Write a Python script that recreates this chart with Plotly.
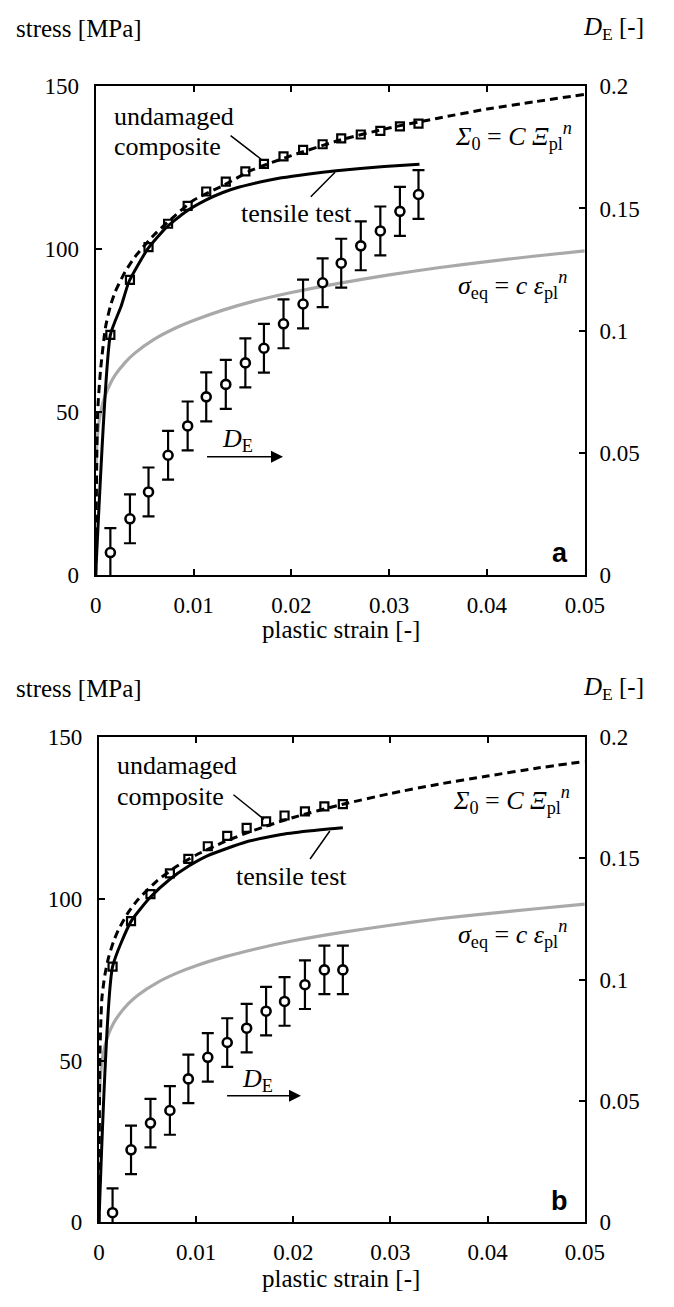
import plotly.graph_objects as go

W, H = 674, 1307

# ---------------- data : panel a ----------------
a_sq_x = [0.0015, 0.0035, 0.0054, 0.0074, 0.0094, 0.0113, 0.0133, 0.0153, 0.0172,
          0.0192, 0.0212, 0.0232, 0.0251, 0.0271, 0.0291, 0.0311, 0.0330]
a_sq_y = [73.7, 90.6, 100.6, 107.8, 113.3, 117.7, 120.7, 123.9, 126.2,
          128.5, 130.5, 132.2, 134.0, 135.2, 136.3, 137.7, 138.5]
a_de_x = a_sq_x
a_de_y = [0.0092, 0.0230, 0.0340, 0.0490, 0.0610, 0.0729, 0.0780, 0.0868, 0.0928,
          0.1028, 0.1109, 0.1196, 0.1276, 0.1347, 0.1408, 0.1488, 0.1557]
a_de_err = [0.010] * 17
a_tens_x = [0, 0.0015, 0.0026, 0.0034, 0.0053, 0.0072, 0.0092, 0.0112, 0.013, 0.0146, 0.0168,
            0.019, 0.0218, 0.0246, 0.0295, 0.0331]
a_tens_y = [0, 73.7, 82.5, 90.0, 100.0, 106.6, 111.5, 115.0, 117.4, 119.0, 120.6,
            121.9, 123.1, 124.1, 125.4, 126.1]
a_dash_x = [0, 0.0002, 0.0005, 0.001, 0.0015, 0.002, 0.003, 0.004, 0.006, 0.008, 0.01,
            0.013, 0.016, 0.02, 0.025, 0.03, 0.035, 0.04, 0.045, 0.05]
a_dash_y = [0, 50, 63, 76, 82.5, 87.0, 93.0, 97.6, 104.5, 110.0, 115.0,
            119.5, 124.3, 128.7, 133.5, 137.2, 140.2, 143.0, 145.3, 147.5]
a_gray_x = [0.00003, 0.0001, 0.0003, 0.0006, 0.001, 0.0015, 0.002, 0.003, 0.004, 0.006, 0.008,
            0.01, 0.013, 0.016, 0.02, 0.025, 0.03, 0.035, 0.04, 0.045, 0.05]
a_gray_y = [33.0, 39.2, 46.2, 51.2, 55.3, 58.8, 61.4, 65.2, 68.1, 72.4, 75.6,
            78.1, 81.3, 83.9, 86.7, 89.6, 92.1, 94.3, 96.2, 97.9, 99.5]

# ---------------- data : panel b ----------------
b_sq_x = [0.0014, 0.0033, 0.0053, 0.0073, 0.0092, 0.0112, 0.0132, 0.0152, 0.0172,
          0.0191, 0.0212, 0.0232, 0.0251]
b_sq_y = [79.0, 93.1, 101.4, 107.8, 112.3, 116.2, 119.4, 121.9, 123.9, 125.7, 127.0, 128.5, 129.2]
b_de_x = b_sq_x
b_de_y = [0.0040, 0.0299, 0.0409, 0.0461, 0.0591, 0.0680, 0.0741, 0.0800, 0.0870,
          0.0910, 0.0979, 0.1040, 0.1040]
b_de_err = [0.010] * 13
b_tens_x = [0, 0.0014, 0.0033, 0.0053, 0.0073, 0.0092, 0.0112, 0.0152, 0.0191, 0.0228, 0.0251]
b_tens_y = [0, 79.0, 93.0, 100.5, 106.0, 110.0, 113.3, 117.6, 120.0, 121.3, 121.9]
b_dash_x = [0, 0.0001, 0.0003, 0.0006, 0.001, 0.0015, 0.002, 0.003, 0.004, 0.006, 0.008, 0.01,
            0.013, 0.016, 0.02, 0.025, 0.03, 0.035, 0.04, 0.045, 0.05]
b_dash_y = [0, 52, 69.2, 76.3, 82.0, 86.8, 90.4, 95.7, 99.7, 105.6, 110.0, 113.5,
            117.7, 121.2, 125.1, 129.1, 132.5, 135.4, 137.9, 140.3, 142.4]
b_gray_x = [0.00003, 0.0001, 0.0003, 0.0006, 0.001, 0.0015, 0.002, 0.003, 0.004, 0.006, 0.008,
            0.01, 0.013, 0.016, 0.02, 0.025, 0.03, 0.035, 0.04, 0.045, 0.05]
b_gray_y = [37.0, 42.9, 49.6, 54.4, 58.3, 61.5, 63.9, 67.5, 70.2, 74.1, 77.0,
            79.3, 82.1, 84.4, 87.0, 89.6, 91.8, 93.8, 95.4, 96.9, 98.3]

x_ticks = [0, 0.01, 0.02, 0.03, 0.04, 0.05]
x_tick_text = ["0", "0.01", "0.02", "0.03", "0.04", "0.05"]
s_ticks = [0, 50, 100, 150]
s_tick_text = ["0", "50", "100", "150"]
d_ticks = [0, 0.05, 0.1, 0.15, 0.2]
d_tick_text = ["0", "0.05", "0.1", "0.15", "0.2"]

SERIF = "'Liberation Serif', 'Times New Roman', Times, 'DejaVu Serif', serif"
SANS = "'Liberation Sans', Arial, Helvetica, sans-serif"
GRAY = "#a9a9a9"

fig = go.Figure()


def add_panel(xa, ya, yd, sq_x, sq_y, de_x, de_y, de_err, t_x, t_y, d_x, d_y, g_x, g_y):
    fig.add_trace(go.Scatter(x=g_x, y=g_y, mode="lines", xaxis=xa, yaxis=ya,
                             line=dict(color=GRAY, width=3.2, shape="spline", smoothing=0.6),
                             showlegend=False, hoverinfo="skip"))
    fig.add_trace(go.Scatter(x=d_x, y=d_y, mode="lines", xaxis=xa, yaxis=ya,
                             line=dict(color="black", width=3, dash="8px,5px", shape="spline", smoothing=0.6),
                             showlegend=False, hoverinfo="skip"))
    fig.add_trace(go.Scatter(x=t_x, y=t_y, mode="lines", xaxis=xa, yaxis=ya,
                             line=dict(color="black", width=3, shape="spline", smoothing=0.5),
                             showlegend=False, hoverinfo="skip"))
    fig.add_trace(go.Scatter(x=sq_x, y=sq_y, mode="markers", xaxis=xa, yaxis=ya,
                             marker=dict(symbol="square-open", size=8, color="black",
                                         line=dict(color="black", width=2.2)),
                             showlegend=False, hoverinfo="skip"))
    fig.add_trace(go.Scatter(x=de_x, y=de_y, mode="markers", xaxis=xa, yaxis=yd,
                             error_y=dict(type="data", array=de_err, visible=True,
                                          color="black", thickness=2.2, width=6),
                             marker=dict(symbol="circle", size=9, color="white",
                                         line=dict(color="black", width=2.6)),
                             showlegend=False, hoverinfo="skip"))


add_panel("x", "y", "y2", a_sq_x, a_sq_y, a_de_x, a_de_y, a_de_err,
          a_tens_x, a_tens_y, a_dash_x, a_dash_y, a_gray_x, a_gray_y)
add_panel("x2", "y3", "y4", b_sq_x, b_sq_y, b_de_x, b_de_y, b_de_err,
          b_tens_x, b_tens_y, b_dash_x, b_dash_y, b_gray_x, b_gray_y)

tickfont = dict(family=SERIF, size=23, color="black")


def xax(domain, anchor):
    return dict(domain=domain, anchor=anchor, range=[0, 0.05], tickvals=x_ticks, ticktext=x_tick_text,
                ticks="inside", ticklen=6, tickwidth=2, tickcolor="black", showline=True, linewidth=2,
                linecolor="black", mirror="ticks", showgrid=False, zeroline=False, tickfont=tickfont,
                ticklabelstandoff=8, fixedrange=True)


def yax_left(domain, anchor):
    return dict(domain=domain, anchor=anchor, range=[0, 150], tickvals=s_ticks, ticktext=s_tick_text,
                ticks="inside", ticklen=6, tickwidth=2, tickcolor="black", showline=True, linewidth=2,
                linecolor="black", showgrid=False, zeroline=False, tickfont=tickfont,
                ticklabelstandoff=10, fixedrange=True)


def yax_right(overlay, anchor):
    return dict(overlaying=overlay, anchor=anchor, side="right", range=[0, 0.2], tickvals=d_ticks,
                ticktext=d_tick_text, ticks="inside", ticklen=6, tickwidth=2, tickcolor="black",
                showline=True, linewidth=2, linecolor="black", showgrid=False, zeroline=False,
                tickfont=tickfont, ticklabelstandoff=8, fixedrange=True)


XR = 602 / W
ya_dom = [1 - 574 / H, 1 - 75.7 / H]
yb_dom = [1 - 1234 / H, 1 - 739 / H]

fig.update_layout(
    width=W, height=H, autosize=False,
    margin=dict(l=0, r=0, t=0, b=0),
    paper_bgcolor="white", plot_bgcolor="white",
    font=dict(family=SERIF, size=23, color="black"),
    xaxis=xax([93.3 / W, XR], "y"),
    yaxis=yax_left(ya_dom, "x"),
    yaxis2=yax_right("y", "x"),
    xaxis2=xax([96.7 / W, XR], "y3"),
    yaxis3=yax_left(yb_dom, "x2"),
    yaxis4=yax_right("y3", "x2"),
)

ann = []
TF = dict(family=SERIF, size=26, color="black")
LF = dict(family=SERIF, size=25, color="black")


def txt(text, x, y, xref, yref, xanchor="left", yanchor="middle", font=TF):
    ann.append(dict(text=text, x=x, y=y, xref=xref, yref=yref, xanchor=xanchor, yanchor=yanchor,
                    showarrow=False, font=font))


def leader(x0, y0, x1, y1, xref, yref, head=0):
    ann.append(dict(text="", x=x1, y=y1, ax=x0, ay=y0, xref=xref, yref=yref, axref=xref, ayref=yref,
                    showarrow=True, arrowhead=head, arrowwidth=1.5, arrowsize=1.6 if head else 1,
                    arrowcolor="black"))


sigma0 = "<i>Σ</i><sub>0</sub> = <i>C</i> <i>Ξ</i><sub>pl</sub><sup><i>n</i></sup>"
sigeq = "<i>σ</i><sub>eq</sub> = <i>c</i> <i>ε</i><sub>pl</sub><sup><i>n</i></sup>"
de_lbl = "<i>D</i><sub>E</sub>"

for (xr, yr, ytop, yxl, v) in [
    ("x", "y", 17, 630, dict(und=(0.00164, 140.7, 131.6), ul=(0.01364, 135.2, 0.01692, 127.6),
                             ten=(0.01462, 111.1), tl=(0.02184, 115.6, 0.02447, 123.6),
                             s0=(0.0489, 134.6), seq=(0.0484, 89.1),
                             de=(0.0145, 41.5), arr=(0.01123, 36.3, 0.01915, 36.3), lab="a")),
    ("x2", "y3", 690, 1291, dict(und=(0.00161, 141.1, 131.5), ul=(0.01369, 132.5, 0.01699, 124.5),
                                  ten=(0.01386, 106.8), tl=(0.02162, 111.8, 0.02376, 120.9),
                                  s0=(0.0487, 130.5), seq=(0.0484, 89.1),
                                  de=(0.0163, 44.0), arr=(0.01303, 39.1, 0.02079, 39.1), lab="b")),
]:
    txt("undamaged", v["und"][0], v["und"][1], xr, yr)
    txt("composite", v["und"][0], v["und"][2], xr, yr)
    leader(*v["ul"], xr, yr)
    txt("tensile test", v["ten"][0], v["ten"][1], xr, yr)
    leader(*v["tl"], xr, yr)
    txt(sigma0, v["s0"][0], v["s0"][1], xr, yr, xanchor="right")
    txt(sigeq, v["seq"][0], v["seq"][1], xr, yr, xanchor="right")
    txt(de_lbl, v["de"][0], v["de"][1], xr, yr, xanchor="center")
    leader(*v["arr"], xr, yr, head=2)
    txt("<b>" + v["lab"] + "</b>", 0.0485, 1.5, xr, yr, xanchor="right", yanchor="bottom",
        font=dict(family=SANS, size=27, color="black"))
    txt("stress [MPa]", 8 / W, 1 - ytop / H, "paper", "paper", font=LF)
    txt("<i>D</i><sub>E</sub> [-]", 666 / W, 1 - ytop / H, "paper", "paper", xanchor="right", font=LF)
    txt("plastic strain [-]", 348 / W, 1 - yxl / H, "paper", "paper", xanchor="center", font=LF)

fig.update_layout(annotations=ann)
fig.write_html("out.html")
